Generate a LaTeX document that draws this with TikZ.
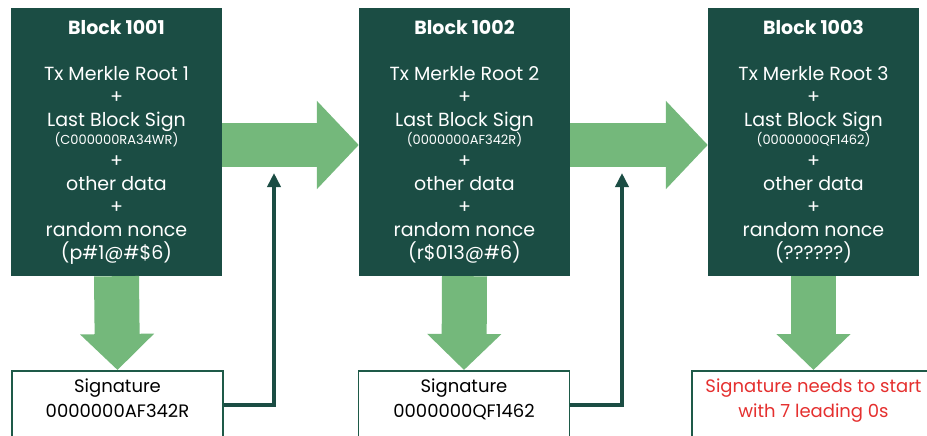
\documentclass[tikz,border=0pt]{standalone}
\usepackage{fontspec}
\setmainfont{Poppins}
\usetikzlibrary{arrows.meta,calc}

\definecolor{blockteal}{HTML}{1B4D44}
\definecolor{arrowgreen}{HTML}{74B87B}
\definecolor{sigline}{HTML}{1E5A48}
\definecolor{alertred}{HTML}{E5302F}

\newcommand\lastsign[1]{{\fontsize{13}{13}\selectfont(#1)}}

\tikzset{
  block/.style={fill=blockteal, text=white, minimum width=211pt, minimum height=268pt,
    align=center, inner sep=0pt, font=\fontsize{19}{23}\selectfont},
  sigbox/.style={draw=sigline, line width=1.5pt, fill=white, anchor=north, align=center,
    minimum width=211pt, inner xsep=0pt, inner ysep=8pt, text depth=60pt,
    font=\fontsize{18}{25}\selectfont},
  fatarrow/.style={draw=arrowgreen, line width=44pt, -{Triangle[length=42pt,width=86pt]}},
  downarrow/.style={draw=arrowgreen, line width=45pt, -{Triangle[length=36pt,width=72pt]}},
  link/.style={draw=blockteal, line width=3.5pt, -{Triangle[length=14pt,width=13pt]}}
}

\begin{document}
\begin{tikzpicture}[x=1pt,y=-1pt]
  \fill[white] (0,0) rectangle (927,436);
  \clip (0,0) rectangle (927,436);

  % blocks
  \node[block] (blockA) at (116.5,142) {\textbf{Block 1001}\\[23pt]
    Tx Merkle Root 1\\+\\Last Block Sign\\[-5pt]\lastsign{C000000RA34WR}\\+\\
    other data\\+\\random nonce\\(p\#1@\#\$6)};
  \node[block] (blockB) at (464.5,142) {\textbf{Block 1002}\\[23pt]
    Tx Merkle Root 2\\+\\Last Block Sign\\[-5pt]\lastsign{0000000AF342R}\\+\\
    other data\\+\\random nonce\\(r\$013@\#6)};
  \node[block] (blockC) at (813.5,142) {\textbf{Block 1003}\\[23pt]
    Tx Merkle Root 3\\+\\Last Block Sign\\[-5pt]\lastsign{0000000QF1462}\\+\\
    other data\\+\\random nonce\\(??????)};

  % signatures
  \node[sigbox] (sigA) at (117.5,370) {Signature\\0000000AF342R};
  \node[sigbox] (sigB) at (464,370) {Signature\\0000000QF1462};
  \node[sigbox, minimum width=243pt, text=alertred] (sigC) at (813.5,370)
    {Signature needs to start\\with 7 leading 0s};

  % chain arrows
  \draw[fatarrow] ([yshift=-3pt]blockA.east) -- ([yshift=-3pt]blockB.west);
  \draw[fatarrow] ([yshift=-3pt]blockB.east) -- ([yshift=-3pt]blockC.west);
  \draw[downarrow] (blockA.south) -- (sigA.north);
  \draw[downarrow] (blockB.south) -- (sigB.north);
  \draw[downarrow] (blockC.south) -- (sigC.north);

  % signature fed back
  \coordinate (outA) at ($(sigA.north east)+(0,35)$);
  \coordinate (outB) at ($(sigB.north east)+(0,35)$);
  \coordinate (tipA) at (274,173);
  \coordinate (tipB) at (622,173);
  \draw[link] (outA) -| (tipA);
  \draw[link] (outB) -| (tipB);
\end{tikzpicture}
\end{document}
